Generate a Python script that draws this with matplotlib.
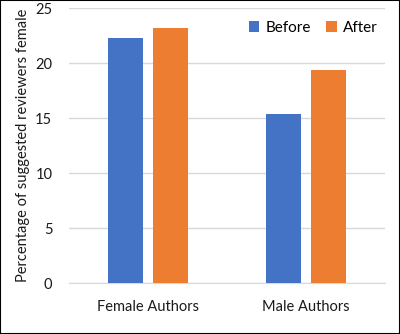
import numpy as np
import matplotlib.pyplot as plt
from matplotlib.patches import Rectangle

groups = ['Female Authors', 'Male Authors']
before = [22.3, 15.4]
after = [23.2, 19.4]

plt.rcParams['font.family'] = ['Lato', 'DejaVu Sans']

fig = plt.figure(figsize=(4, 3.34), dpi=100)
ax = fig.add_axes([0.1725, 0.152, 0.79, 0.823])

x = np.arange(len(groups))
w = 0.222
off = 0.142
ax.bar(x - off, before, w, color='#4472C4', label='Before', zorder=3)
ax.bar(x + off, after, w, color='#ED7D31', label='After', zorder=3)

ax.set_xlim(-0.5, 1.5)
ax.set_ylim(0, 25)
ax.set_yticks(range(0, 26, 5))
ax.set_xticks(x)
ax.set_xticklabels(groups)
ax.yaxis.grid(True, color='#d9d9d9', linewidth=1)
ax.set_axisbelow(True)
for s in ['top', 'right', 'left']:
    ax.spines[s].set_visible(False)
ax.spines['bottom'].set_color('#d9d9d9')
ax.tick_params(length=0, labelsize=10.5, colors='#1a1a1a')
ax.tick_params(axis='y', pad=12)
ax.tick_params(axis='x', pad=12)
ax.set_ylabel('Percentage of suggested reviewers female', fontsize=10.5, color='#1a1a1a', labelpad=4)

ax.legend(loc='upper right', bbox_to_anchor=(1.02, 1.005), ncol=2, frameon=False,
          fontsize=11, handlelength=0.7, handleheight=0.7, handletextpad=0.4,
          columnspacing=1.0)

fig.patches.append(Rectangle((0, 0), 1, 1, transform=fig.transFigure, fill=False,
                             edgecolor='black', linewidth=1.5))
fig.savefig('out.png', dpi=100)
